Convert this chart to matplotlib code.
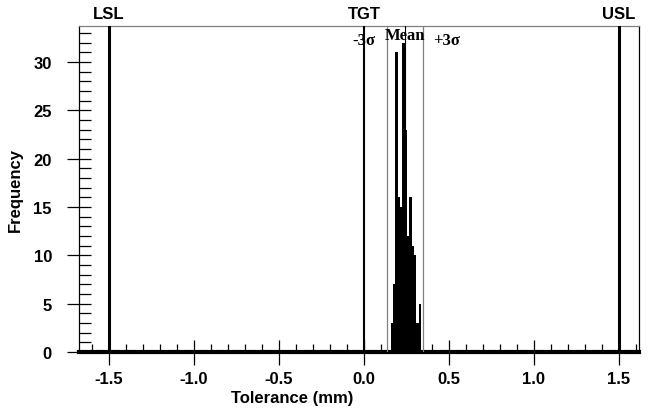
import matplotlib
matplotlib.use("Agg")
import matplotlib.pyplot as plt
import numpy as np
from matplotlib.ticker import MultipleLocator

# histogram (bin left edges in mm, counts)
BIN_WIDTH = 0.0138
bin_left = [0.157, 0.1708, 0.1846, 0.1984, 0.2122, 0.226, 0.2398,
            0.2536, 0.2674, 0.2812, 0.295, 0.3088, 0.3226]
counts = [3, 7, 31, 16, 15, 32, 23, 12, 16, 11, 10, 3, 5]

spec_pos = [-1.5, 0.0, 1.5]
spec_names = ["LSL", "TGT", "USL"]
spec_widths = [2.2, 1.5, 2.2]
mean_val = 0.241
minus3s = 0.135
plus3s = 0.347

SANS = "Liberation Sans"
SERIF = "Liberation Serif"
FS = 12

fig = plt.figure(figsize=(6.49, 4.10), dpi=100)
ax = fig.add_axes([0.1217, 0.139, 0.8629, 0.795])

ax.bar(bin_left, counts, width=BIN_WIDTH, align="edge", color="black", linewidth=0, zorder=2)

for pos, name, lw in zip(spec_pos, spec_names, spec_widths):
    ax.axvline(pos, color="black", linewidth=lw, zorder=3)
    ax.text(pos, 1.015, name, transform=ax.get_xaxis_transform(), ha="center", va="bottom",
            fontsize=FS, fontweight="bold", family=SANS)

ax.axvline(mean_val, color="black", linewidth=0.8, zorder=3)
ax.axvline(minus3s, color="#808080", linewidth=0.9, zorder=3)
ax.axvline(plus3s, color="#808080", linewidth=0.9, zorder=3)

ax.text(mean_val, 33.6, "Mean", ha="center", va="top", fontsize=FS, fontweight="bold", family=SERIF, zorder=4)
ax.text(0.068, 32.3, "-3σ", ha="right", va="center", fontsize=FS, fontweight="bold", family=SERIF, zorder=4)
ax.text(0.406, 32.3, "+3σ", ha="left", va="center", fontsize=FS, fontweight="bold", family=SERIF, zorder=4)

ax.set_xlim(-1.676, 1.618)
ax.set_ylim(0, 33.7)

ax.xaxis.set_major_locator(MultipleLocator(0.5))
ax.xaxis.set_minor_locator(MultipleLocator(0.1))
ax.yaxis.set_major_locator(MultipleLocator(5))
ax.yaxis.set_minor_locator(MultipleLocator(1))
ax.set_xticks(np.arange(-1.5, 1.51, 0.5))
ax.set_xticklabels(["-1.5", "-1.0", "-0.5", "0.0", "0.5", "1.0", "1.5"])

ax.tick_params(axis="x", which="major", direction="inout", length=18, width=0.9, pad=5)
ax.tick_params(axis="x", which="minor", direction="in", length=6, width=0.9)
ax.tick_params(axis="y", which="major", direction="inout", length=17, width=0.9, pad=11)
ax.tick_params(axis="y", which="minor", direction="in", length=8.6, width=0.9)
for lab in ax.get_xticklabels() + ax.get_yticklabels():
    lab.set_family(SANS)
    lab.set_fontweight("bold")
    lab.set_fontsize(FS)

ax.spines["bottom"].set_linewidth(3)
ax.spines["left"].set_linewidth(0.9)
ax.spines["right"].set_linewidth(0.9)
ax.spines["top"].set_linewidth(0.9)
ax.spines["top"].set_color("#808080")

ax.set_xlabel("Tolerance (mm)", fontsize=FS, fontweight="bold", family=SANS)
ax.xaxis.set_label_coords(0.38, -0.118)
ax.set_ylabel("Frequency", fontsize=FS, fontweight="bold", family=SANS)
ax.yaxis.set_label_coords(-0.1, 0.5)

fig.savefig("out.png", dpi=100)
